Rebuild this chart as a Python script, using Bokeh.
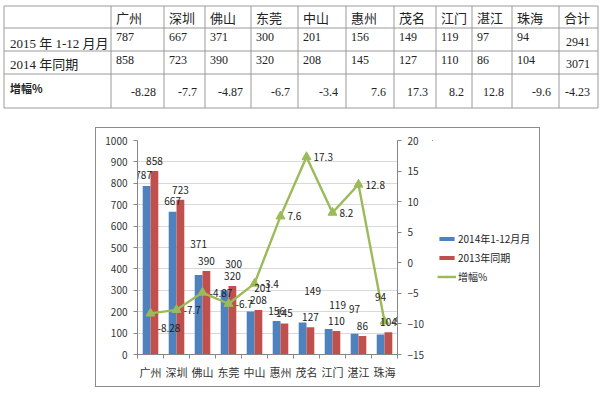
from bokeh.plotting import figure
from bokeh.models import (Range1d, LinearAxis, FixedTicker, ColumnDataSource,
                          Legend, LegendItem, Spacer)
from bokeh.layouts import column, row
from bokeh.transform import dodge
from bokeh.core.properties import value
from bokeh.embed import file_html
from bokeh.resources import INLINE

# ---------------- data ----------------
cities = ["广州", "深圳", "佛山", "东莞", "中山", "惠州", "茂名", "江门", "湛江", "珠海"]
sales_2015 = [787, 667, 371, 300, 201, 156, 149, 119, 97, 94]
sales_2014 = [858, 723, 390, 320, 208, 145, 127, 110, 86, 104]
growth = [-8.28, -7.7, -4.87, -6.7, -3.4, 7.6, 17.3, 8.2, 12.8, -9.6]
total_label = "合计"
total_2015 = 2941
total_2014 = 3071
total_growth = -4.23
row_labels = ["2015 年 1-12 月月", "2014 年同期", "增幅%"]
series_names = ["2014年1-12月月", "2013年同期", "增幅%"]
left_ticks = [0, 100, 200, 300, 400, 500, 600, 700, 800, 900, 1000]
right_ticks = [-15, -10, -5, 0, 5, 10, 15, 20]

# ---------------- style ----------------
BLUE, RED, GREEN = "#4F81BD", "#C0504D", "#9BBB59"
CJK = "Noto Sans CJK SC"
SERIF = "Liberation Serif"
TXT = "#222222"
GRID = "#9a9a9a"
table_left, table_top = 3.5, 5.5
col_widths = [107, 53, 41, 46, 47, 48, 48, 42, 36, 40, 47, 39]
row_heights = [22, 23, 23, 34]
# label offsets (screen px) for the chart's data labels
blue_dx = [-3, 0, 0, 9, 12, 0, 10, 9, 0, 0]
blue_dy = [-11, -11, -31, -26, -23, -10, -32, -24, -25, -37]
line_dy = [15, 0, 0, 0, 0, 0, 0, 0, 0, 0]

# ---------------- table ----------------
ex = [table_left]
for w in col_widths:
    ex.append(ex[-1] + w)
ey = [table_top]
for h in row_heights:
    ey.append(ey[-1] + h)

t = figure(width=600, height=127, x_range=Range1d(0, 600), y_range=Range1d(127, 0),
           x_axis_type=None, y_axis_type=None, output_backend="svg", toolbar_location=None,
           min_border=0)
t.grid.visible = False
t.outline_line_color = None
t.segment(x0=ex, y0=[ey[0]] * len(ex), x1=ex, y1=[ey[-1]] * len(ex), line_color=GRID, line_width=1)
t.segment(x0=[ex[0]] * len(ey), y0=ey, x1=[ex[-1]] * len(ey), y1=ey, line_color=GRID, line_width=1)

heads = cities + [total_label]
t.text(x=[ex[i + 1] + 5 for i in range(len(heads))], y=[ey[0] + 11] * len(heads), text=heads,
       text_font=value(CJK), text_font_size="13px", text_color=TXT,
       text_align="left", text_baseline="middle")
t.text(x=[ex[0] + 6, ex[0] + 6], y=[ey[1] + 15, ey[2] + 13], text=row_labels[:2],
       text_font=value(SERIF + ", " + CJK), text_font_size="13px", text_color=TXT,
       text_align="left", text_baseline="middle")
t.text(x=[ex[0] + 6], y=[ey[3] + 14], text=row_labels[2:], text_font=value(CJK),
       text_font_size="11px", text_font_style="bold", text_color=TXT,
       text_align="left", text_baseline="middle")
n = len(cities)
t.text(x=[ex[i + 1] + 5 for i in range(n)], y=[ey[1] + 8.5] * n, text=[str(v) for v in sales_2015],
       text_font=value(SERIF), text_font_size="12px", text_color=TXT, text_align="left", text_baseline="middle")
t.text(x=[ex[i + 1] + 5 for i in range(n)], y=[ey[2] + 9] * n, text=[str(v) for v in sales_2014],
       text_font=value(SERIF), text_font_size="12px", text_color=TXT, text_align="left", text_baseline="middle")
t.text(x=[ex[-1] - 8, ex[-1] - 8], y=[ey[1] + 13.5, ey[2] + 12.5], text=[str(total_2015), str(total_2014)],
       text_font=value(SERIF), text_font_size="12px", text_color=TXT, text_align="right", text_baseline="middle")
t.text(x=[ex[i + 2] - 8 for i in range(n + 1)], y=[ey[3] + 17.5] * (n + 1),
       text=[str(v) for v in growth + [total_growth]],
       text_font=value(SERIF), text_font_size="12px", text_color=TXT, text_align="right", text_baseline="middle")

# ---------------- chart ----------------
idx = list(range(n))
src = ColumnDataSource(dict(
    idx=idx, s15=sales_2015, s14=sales_2014, g=growth,
    s15_lbl=[str(v) for v in sales_2015], s14_lbl=[str(v) for v in sales_2014],
    g_lbl=[str(v) for v in growth], bdx=blue_dx, bdy=blue_dy, gdy=line_dy,
))

p = figure(width=336, height=258, x_range=Range1d(-0.5, n - 0.5), y_range=Range1d(0, 1000),
           output_backend="svg", toolbar_location=None,
           min_border_left=41, min_border_right=35, min_border_top=12, min_border_bottom=32)
p.extra_y_ranges = {"pct": Range1d(-15, 20)}
p.outline_line_color = None
p.xgrid.visible = False
p.ygrid.ticker = FixedTicker(ticks=left_ticks)
p.ygrid.grid_line_color = "#d9d9d9"

p.xaxis.ticker = FixedTicker(ticks=idx, minor_ticks=[i - 0.5 for i in range(n + 1)])
p.xaxis.major_label_overrides = {i: c for i, c in enumerate(cities)}
p.xaxis.major_tick_line_color = None
p.xaxis.major_tick_out = 0
p.xaxis.major_tick_in = 0
p.xaxis.minor_tick_out = 4
p.xaxis.minor_tick_in = 0
p.xaxis.minor_tick_line_color = "#868686"
p.xaxis.major_label_standoff = 5
p.xaxis.major_label_text_font_size = "11px"

p.yaxis.ticker = FixedTicker(ticks=left_ticks)
ra = LinearAxis(y_range_name="pct", ticker=FixedTicker(ticks=right_ticks))
p.add_layout(ra, "right")
for ax in [p.yaxis[0], ra]:
    ax.minor_tick_line_color = None
    ax.major_tick_out = 4
    ax.major_tick_in = 0
    ax.major_label_text_font_size = "10px"
    ax.major_tick_line_color = "#868686"
    ax.major_label_standoff = 6
for ax in p.axis:
    ax.axis_line_color = "#868686"
    ax.major_label_text_font = CJK
    ax.major_label_text_color = "#333333"

b1 = p.vbar(x=dodge("idx", -0.15), top="s15", width=0.3, source=src, fill_color=BLUE, line_color=None)
b2 = p.vbar(x=dodge("idx", 0.15), top="s14", width=0.3, source=src, fill_color=RED, line_color=None)
ln = p.line("idx", "g", source=src, y_range_name="pct", line_color=GREEN, line_width=2.4)
mk = p.scatter("idx", "g", source=src, y_range_name="pct", marker="triangle", size=9,
               fill_color=GREEN, line_color=GREEN)

p.text(x=dodge("idx", -0.15), y="s15", text="s15_lbl", x_offset="bdx", y_offset="bdy", source=src,
       text_align="center", text_baseline="middle", text_font=value(CJK), text_font_size="10px",
       text_color=TXT)
p.text(x=dodge("idx", 0.15), y="s14", text="s14_lbl", y_offset=-10, source=src,
       text_align="center", text_baseline="middle", text_font=value(CJK), text_font_size="10px",
       text_color=TXT)
p.text(x="idx", y="g", text="g_lbl", x_offset=7, y_offset="gdy", source=src, y_range_name="pct",
       text_align="left", text_baseline="middle", text_font=value(CJK), text_font_size="10px",
       text_color=TXT)

# legend panel inside the chart border: the same series drawn on a view that lies far
# outside their data, so that only the legend swatches show
lf = figure(width=107, height=258, x_range=Range1d(100, 101), y_range=Range1d(-1000, -999),
            x_axis_type=None, y_axis_type=None, output_backend="svg", toolbar_location=None,
            min_border=0)
lf.grid.visible = False
lf.outline_line_color = None
k1 = lf.vbar(x="idx", top="s15", width=0.3, source=src, fill_color=BLUE, line_color=None)
k2 = lf.vbar(x="idx", top="s14", width=0.3, source=src, fill_color=RED, line_color=None)
k3 = lf.line("idx", "g", source=src, line_color=GREEN, line_width=2.4)
k4 = lf.scatter("idx", "g", source=src, marker="triangle", size=9, fill_color=GREEN, line_color=GREEN)
legend = Legend(items=[LegendItem(label=value(series_names[0]), renderers=[k1]),
                       LegendItem(label=value(series_names[1]), renderers=[k2]),
                       LegendItem(label=value(series_names[2]), renderers=[k3, k4])],
                location=(5, 68), orientation="vertical", border_line_color=None,
                background_fill_alpha=0, padding=0, margin=0, spacing=0,
                glyph_width=19, glyph_height=5, label_height=19, label_standoff=2,
                label_text_font=CJK, label_text_font_size="10px", label_text_color=TXT)
lf.add_layout(legend)

chart_box = row(p, lf, styles={"border": "1px solid #8c8c8c"})
layout = column(t, row(Spacer(width=95), chart_box))
open("out.html", "w").write(file_html(layout, INLINE))
